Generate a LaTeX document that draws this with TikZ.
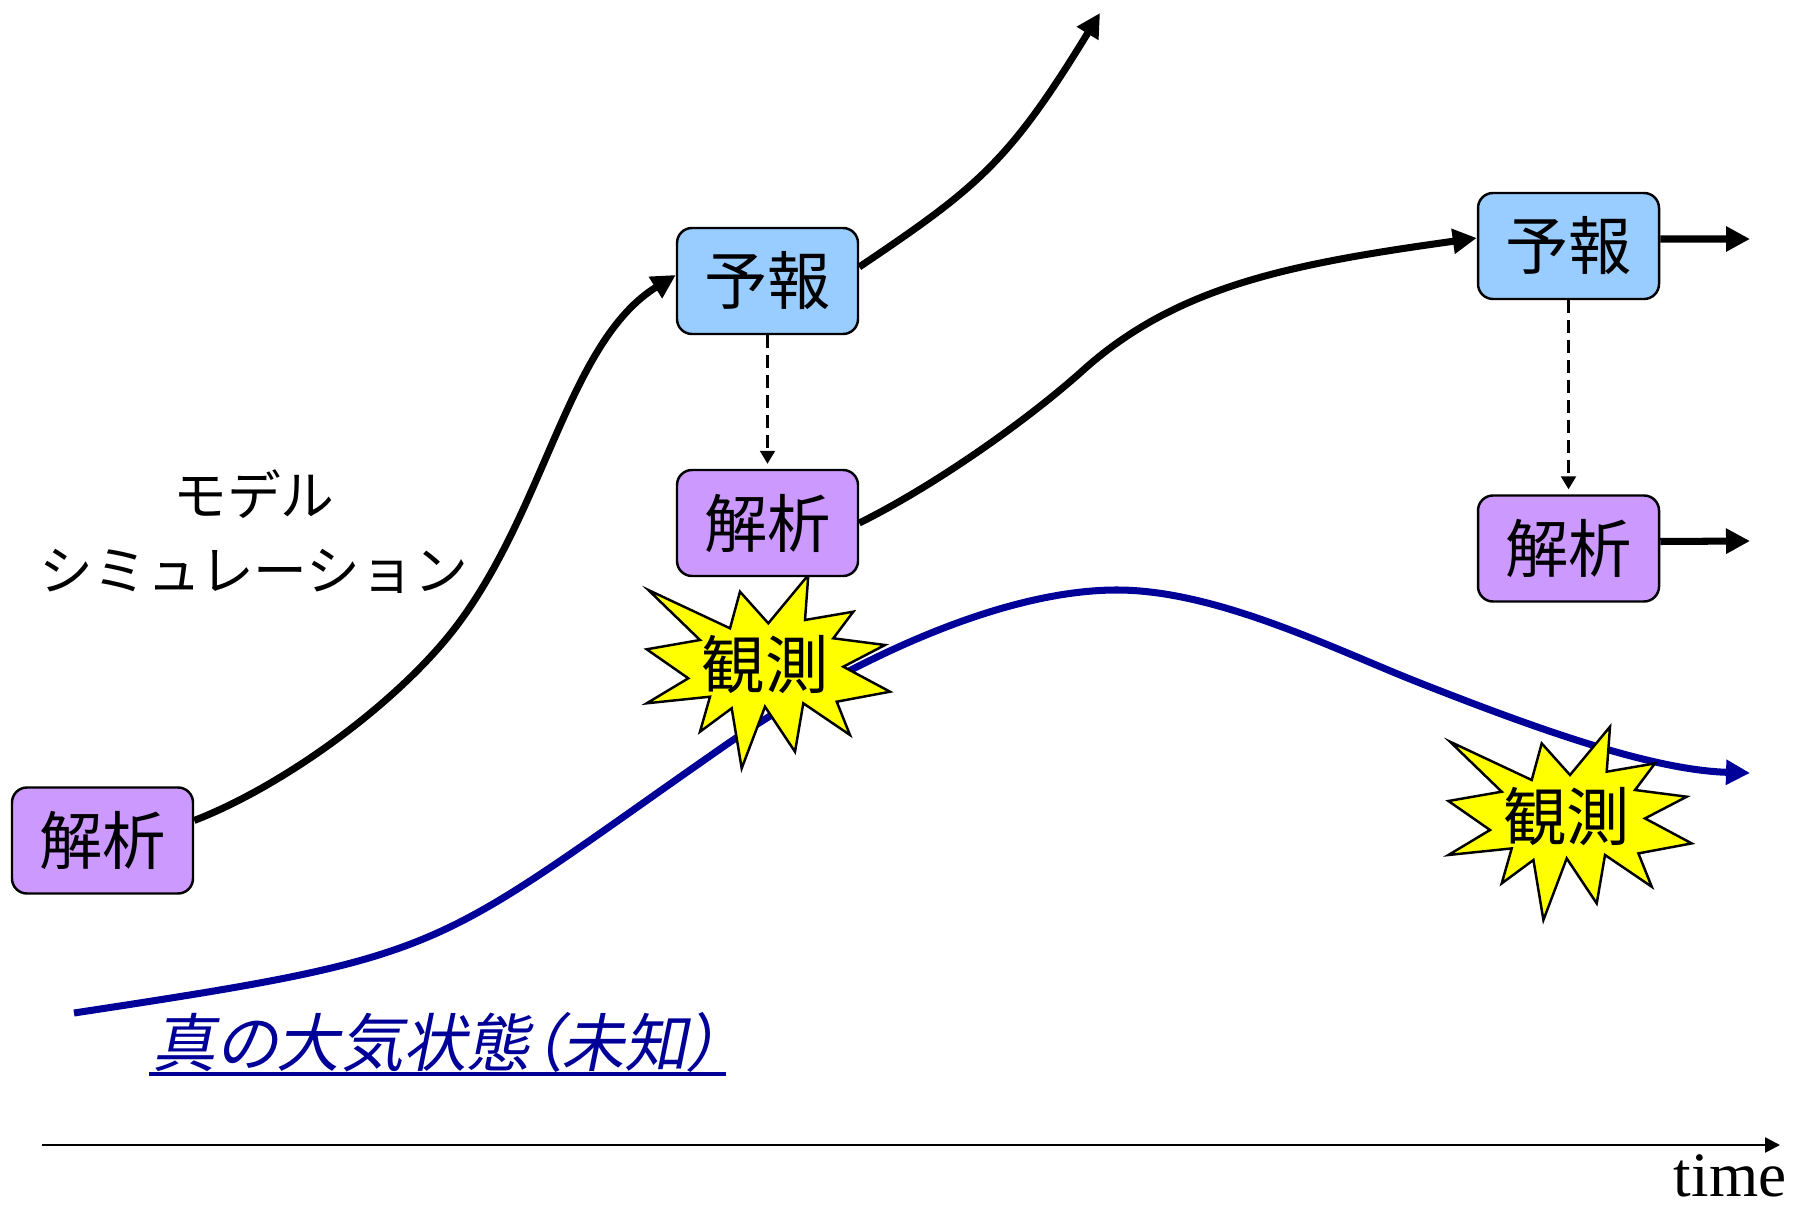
\documentclass[tikz,border=0pt]{standalone}
\usepackage{fontspec}
\setmainfont{Liberation Serif}
\newfontfamily\jp{Noto Sans CJK JP}
\newfontfamily\jpit[FakeSlant=0.2,RawFeature=+palt]{Noto Sans CJK JP}
\usetikzlibrary{arrows.meta}
\definecolor{fcblue}{RGB}{153,204,255}
\definecolor{anpurple}{RGB}{204,153,255}
\definecolor{truenavy}{RGB}{0,0,153}
\definecolor{burstyellow}{RGB}{255,255,0}
\tikzset{
  box/.style={draw=black, line width=0.7pt, rounded corners=0.15cm, minimum width=1.81cm,
    minimum height=1.06cm, inner sep=0pt, font=\jp\fontsize{18}{20}\selectfont},
  fcbox/.style={box, fill=fcblue},
  anbox/.style={box, fill=anpurple},
  flow/.style={line width=2pt, -{Triangle[length=0.24cm,width=0.24cm]}},
  truthline/.style={line width=2pt, draw=truenavy, -{Triangle[length=0.24cm,width=0.24cm]}},
  dasharrow/.style={line width=0.6pt, dash pattern=on 3.7pt off 2pt, -{Triangle[length=0.13cm,width=0.15cm]}},
  burst/.style={fill=burstyellow, draw=black, line width=0.7pt, line join=miter},
  bursttext/.style={inner sep=0pt, font=\jp\fontsize{18}{20}\selectfont},
  axis/.style={line width=0.7pt, -{Triangle[length=0.15cm,width=0.15cm]}},
}
\newcommand{\burstshape}[1]{%
  \filldraw[burst, shift={#1}] (-1.167,0.75) -- (-0.35,0.367) -- (-0.25,0.733) -- (0.033,0.417)
    -- (0.433,0.90) -- (0.40,0.45) -- (0.883,0.533) -- (0.683,0.267) -- (1.20,0.20)
    -- (0.783,-0.017) -- (1.25,-0.267) -- (0.717,-0.367) -- (0.85,-0.70) -- (0.383,-0.383)
    -- (0.30,-0.867) -- (0.0,-0.417) -- (-0.233,-1.033) -- (-0.333,-0.433) -- (-0.65,-0.667)
    -- (-0.55,-0.317) -- (-1.183,-0.383) -- (-0.767,-0.133) -- (-1.183,0.157) -- (-0.65,0.25) -- cycle;}
\begin{document}
\begin{tikzpicture}
\useasboundingbox (0,0) rectangle (17.96,12.06);

% true atmosphere curve
\coordinate (tstart) at (0.74,1.93);
\coordinate (tend) at (17.50,4.33);
\draw[truthline] (tstart) .. controls (4.56,2.51) and (4.26,2.52) .. (7.2,4.57)
  .. controls (8.26,5.31) and (9.89,6.16) .. (11.17,6.16)
  .. controls (12.17,6.16) and (13.36,5.56) .. (14.2,5.23)
  .. controls (15.32,4.79) and (16.5,4.36) .. (tend);

% observations
\burstshape{(7.65,5.41)}
\node[bursttext] (obs1) at (7.65,5.41) {観測};
\burstshape{(15.667,3.893)}
\node[bursttext] (obs2) at (15.667,3.893) {観測};

% boxes
\node[anbox] (a1) at (1.025,3.655) {解析};
\node[fcbox] (f1) at (7.675,9.25) {予報};
\node[anbox] (a2) at (7.675,6.83) {解析};
\node[fcbox] (f2) at (15.685,9.60) {予報};
\node[anbox] (a3) at (15.685,6.575) {解析};

\coordinate (f1out) at (11.00,11.93);
\coordinate (f2out) at (17.50,9.67);
\coordinate (a3out) at (17.50,6.65);

% model simulation arrows
\draw[flow] ([yshift=0.2cm]a1.east) .. controls (2.88,4.22) and (4.02,5.07) .. (4.58,5.82)
  .. controls (5.46,7.00) and (5.69,8.65) .. ([yshift=0.06cm]f1.west);
\draw[flow] ([yshift=0.14cm]f1.east) .. controls (9.78,10.19) and (10.09,10.44) .. (f1out);
\draw[flow] (a2.east) .. controls (9.30,7.18) and (10.20,7.80) .. (10.80,8.33)
  .. controls (11.75,9.20) and (12.90,9.42) .. ([yshift=0.08cm]f2.west);
\draw[flow] ([yshift=0.07cm]f2.east) -- (f2out);
\draw[flow] ([yshift=0.07cm]a3.east) -- (a3out);

% forecast -> analysis (dashed)
\draw[dasharrow, shorten >=0.05cm] (f1.south) -- (a2.north);
\draw[dasharrow, shorten >=0.05cm] (f2.south) -- (a3.north);

% labels
\node[align=center, inner sep=0pt, font=\jp\fontsize{15.3}{21.3}\selectfont] (sim) at (2.54,6.74)
  {モデル\\シミュレーション};
\node[anchor=base west, inner sep=0pt, text=truenavy, font=\jpit\fontsize{18}{20}\selectfont]
  (truth) at (1.52,1.40) {真の大気状態（未知）};
\draw[truenavy, line width=1pt] ([xshift=-0.03cm,yshift=-0.08cm]truth.base west)
  -- ([xshift=0.05cm,yshift=-0.08cm]truth.base east);

% time axis
\coordinate (t0) at (0.42,0.61);
\coordinate (t1) at (17.80,0.61);
\draw[axis] (t0) -- (t1);
\node[anchor=base east, inner sep=0pt, font=\fontsize{18}{20}\selectfont] (time) at (17.87,0.10) {time};
\end{tikzpicture}
\end{document}
